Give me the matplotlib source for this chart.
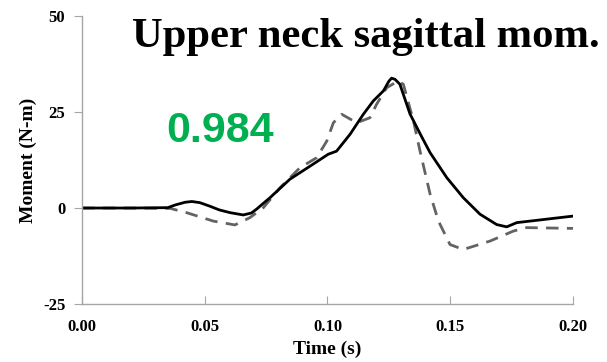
import matplotlib
matplotlib.use("Agg")
import matplotlib.pyplot as plt

# Solid (black) curve
t_solid = [0.000, 0.020, 0.035, 0.038, 0.042, 0.0448, 0.048, 0.052, 0.056, 0.0603,
           0.0657, 0.0690, 0.0711, 0.0766, 0.0847, 0.0929, 0.1003, 0.1037, 0.1092,
           0.1146, 0.1187, 0.1228, 0.1250, 0.1261, 0.1275, 0.1295, 0.1336, 0.1380,
           0.1418, 0.1486, 0.1553, 0.1621, 0.1689, 0.1730, 0.1771, 0.1852, 0.2000]
m_solid = [0.0, 0.0, 0.1, 0.8, 1.5, 1.7, 1.4, 0.5, -0.5, -1.2,
           -1.8, -1.3, -0.3, 2.7, 7.5, 10.9, 14.0, 14.8, 19.2,
           24.4, 27.9, 30.5, 33.0, 33.8, 33.5, 32.2, 24.5, 19.0,
           14.4, 7.9, 2.7, -1.6, -4.3, -4.9, -3.8, -3.2, -2.1]

# Dashed (gray) curve
t_dash = [0.000, 0.020, 0.036, 0.0426, 0.0535, 0.0623, 0.0684, 0.0739, 0.0807, 0.0888,
          0.0956, 0.0997, 0.1024, 0.1058, 0.1119, 0.1173, 0.1200, 0.1241, 0.1288,
          0.1309, 0.1350, 0.1377, 0.1418, 0.1452, 0.1499, 0.1553, 0.1662, 0.1757,
          0.1811, 0.2000]
m_dash = [0.0, 0.0, -0.1, -1.2, -3.4, -4.4, -2.5, 0.1, 5.3, 10.5,
          13.1, 17.4, 22.2, 24.4, 22.2, 23.5, 27.0, 31.3, 33.1,
          32.2, 22.7, 14.8, 3.6, -3.4, -9.5, -10.8, -8.6, -6.0,
          -5.1, -5.3]

x_ticks = [0.00, 0.05, 0.10, 0.15, 0.20]
y_ticks = [-25, 0, 25, 50]

serif = ["Liberation Serif", "DejaVu Serif"]

fig = plt.figure(figsize=(6.07, 3.62), dpi=100)
ax = fig.add_axes([0.135, 0.160, 0.809, 0.796])

ax.plot(t_dash, m_dash, color="#636363", lw=2.0, ls=(0, (4.5, 3)))
ax.plot(t_solid, m_solid, color="black", lw=2.0)

ax.set_xlim(0, 0.2)
ax.set_ylim(-25, 50)
ax.set_xticks(x_ticks)
ax.set_yticks(y_ticks)
ax.set_xticklabels([f"{v:.2f}" for v in x_ticks], family=serif, fontweight="bold", fontsize=12)
ax.set_yticklabels([str(v) for v in y_ticks], family=serif, fontweight="bold", fontsize=12)

for s in ["top", "right"]:
    ax.spines[s].set_visible(False)
for s in ["left", "bottom"]:
    ax.spines[s].set_color("#A6A6A6")
    ax.spines[s].set_linewidth(1.0)
ax.tick_params(axis="y", direction="out", length=6, color="#A6A6A6", pad=6)
ax.tick_params(axis="x", direction="in", length=6, color="#A6A6A6", pad=11)

ax.set_xlabel("Time (s)", family=serif, fontweight="bold", fontsize=14, labelpad=4)
ax.set_ylabel("Moment (N-m)", family=serif, fontweight="bold", fontsize=14, labelpad=4)

fig.text(600 / 607, 1 - 47 / 362, "Upper neck sagittal mom.", family=serif,
         fontweight="bold", fontsize=30.7, ha="right", va="baseline")
fig.text(220 / 607, 1 - 131 / 362, "0.984", family=["Liberation Sans", "DejaVu Sans"],
         fontweight="bold", fontsize=31, color="#00B050", ha="center", va="center")

fig.savefig("out.png", dpi=100)
